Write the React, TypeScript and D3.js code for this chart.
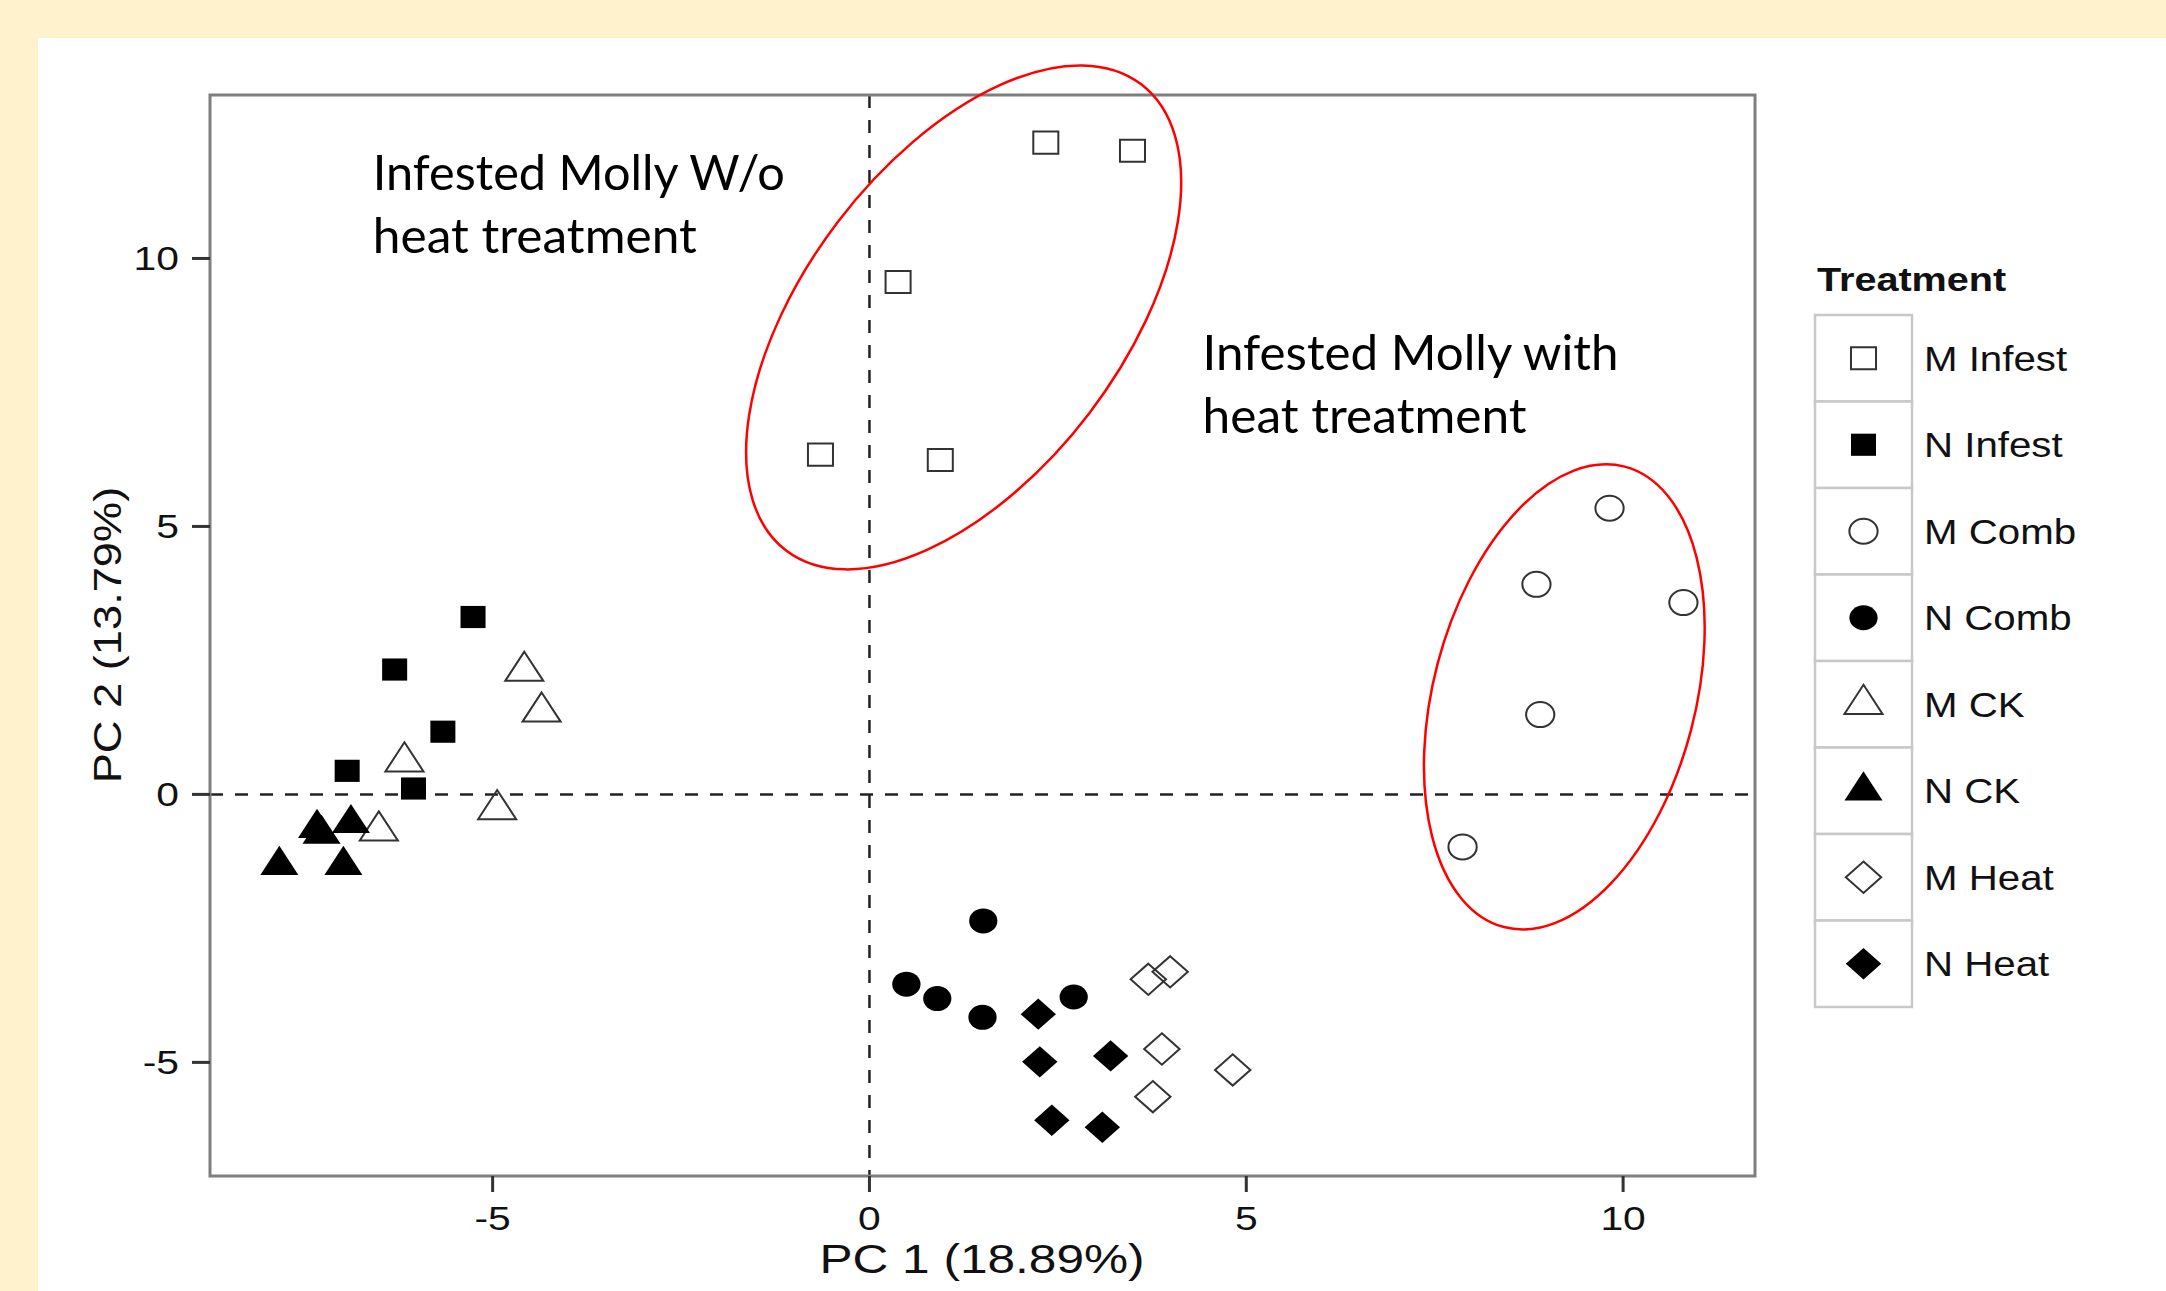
import React from 'react';
import * as d3 from 'd3';

// PCA scores, one list per treatment group
const treatments = ['M Infest', 'N Infest', 'M Comb', 'N Comb', 'M CK', 'N CK', 'M Heat', 'N Heat'];
const shapes = ['square', 'square', 'circle', 'circle', 'triangle', 'triangle', 'diamond', 'diamond'];
const filled = [false, true, false, true, false, true, false, true];

const mInfest = [[2.34, 12.16], [3.49, 12.01], [0.38, 9.56], [-0.65, 6.34], [0.94, 6.24]];
const nInfest = [[-5.26, 3.31], [-6.30, 2.33], [-5.66, 1.17], [-6.93, 0.44], [-6.05, 0.11]];
const mComb = [[9.82, 5.34], [8.85, 3.92], [10.80, 3.58], [8.90, 1.49], [7.87, -0.98]];
const nComb = [[1.51, -2.36], [0.49, -3.54], [0.90, -3.81], [1.50, -4.16], [2.71, -3.78]];
const mCK = [[-4.58, 2.30], [-4.35, 1.54], [-6.17, 0.61], [-4.94, -0.28], [-6.51, -0.68]];
const nCK = [[-7.33, -0.63], [-7.27, -0.74], [-6.88, -0.54], [-7.83, -1.32], [-6.98, -1.32]];
const mHeat = [[3.70, -3.45], [3.99, -3.31], [3.88, -4.75], [3.76, -5.64], [4.82, -5.14]];
const nHeat = [[2.24, -4.10], [2.26, -4.99], [3.20, -4.88], [2.42, -6.08], [3.09, -6.21]];
const groups = [mInfest, nInfest, mComb, nComb, mCK, nCK, mHeat, nHeat];

const xTicks = [-5, 0, 5, 10];
const yTicks = [-5, 0, 5, 10];
const xDomain = [-8.75, 11.75];
const yDomain = [-7.12, 13.05];

// hand drawn ellipses + notes (anchor in data units)
const notes = [
    {lines: ['Infested Molly W/o', 'heat treatment'], x: -6.59, y: 11.28, widths: [412, 324]},
    {lines: ['Infested Molly with', 'heat treatment'], x: 4.42, y: 7.92, widths: [416, 324]}
];
const ellipses = [
    {cx: 1.25, cy: 8.9, rx: 293, ry: 158, angle: -52.7},
    {cx: 9.22, cy: 1.82, rx: 238, ry: 131, angle: -75.3}
];

const W = 2166, H = 1291;
const plot = {left: 210, right: 1755, top: 95, bottom: 1176};
const R = 12.5;        // ggplot point radius in px
const stretch = 1.13;  // the original figure is stretched sideways
const axisFont = '"Liberation Sans", Arial, sans-serif';

function shapePath(shape) {
    if (shape === 'square') {
        const h = 0.886 * R;
        return `M${-h},${-h}H${h}V${h}H${-h}Z`;
    }
    if (shape === 'circle') {
        return `M${-R},0A${R},${R} 0 1,0 ${R},0A${R},${R} 0 1,0 ${-R},0Z`;
    }
    if (shape === 'triangle') {
        const r = 1.555 * R, xc = 1.347 * R, yc = 0.778 * R;
        return `M0,${-r}L${xc},${yc}L${-xc},${yc}Z`;
    }
    const d = 1.253 * R;
    return `M0,${-d}L${d},0L0,${d}L${-d},0Z`;
}

const Marker = ({x, y, i}) => (
    <path
        d={shapePath(shapes[i])}
        transform={`translate(${x},${y}) scale(${stretch},1)`}
        fill={filled[i] ? '#000' : 'none'}
        stroke={filled[i] ? 'none' : '#333'}
        strokeWidth={2}
        vectorEffect="non-scaling-stroke"
    />
);

export default function App() {
    const xScale = d3.scaleLinear().domain(xDomain).range([plot.left, plot.right]);
    const yScale = d3.scaleLinear().domain(yDomain).range([plot.bottom, plot.top]);

    const keyTop = 315, keyH = 86.5, keyLeft = 1815, keyW = 97;

    return (
        <svg width={W} height={H} style={{position: 'absolute', left: 0, top: 0}}>
            <rect x={0} y={0} width={W} height={H} fill="#FFF2CC"/>
            <rect x={38} y={38} width={W - 38} height={H - 38} fill="#fff"/>

            {/* zero lines */}
            <line x1={xScale(0)} x2={xScale(0)} y1={plot.top} y2={plot.bottom}
                  stroke="#222" strokeWidth={2.5} strokeDasharray="13,12"/>
            <line x1={plot.left} x2={plot.right} y1={yScale(0)} y2={yScale(0)}
                  stroke="#222" strokeWidth={2.5} strokeDasharray="13,12"/>

            {/* points */}
            {groups.map((g, i) => g.map((p, j) => (
                <Marker key={i + '-' + j} x={xScale(p[0])} y={yScale(p[1])} i={i}/>
            )))}

            {/* panel border */}
            <rect x={plot.left} y={plot.top} width={plot.right - plot.left} height={plot.bottom - plot.top}
                  fill="none" stroke="#7f7f7f" strokeWidth={3}/>

            {/* x axis */}
            {xTicks.map(t => (
                <g key={'x' + t}>
                    <line x1={xScale(t)} x2={xScale(t)} y1={plot.bottom} y2={plot.bottom + 16} stroke="#333" strokeWidth={3}/>
                    <text transform={`translate(${xScale(t)},${plot.bottom + 54}) scale(1.2,1)`}
                          textAnchor="middle" fontFamily={axisFont} fontSize={34} fill="#111">{t}</text>
                </g>
            ))}
            <text transform={`translate(982,1273) scale(1.24,1)`}
                  textAnchor="middle" fontFamily={axisFont} fontSize={40} fill="#111">PC 1 (18.89%)</text>

            {/* y axis */}
            {yTicks.map(t => (
                <g key={'y' + t}>
                    <line x1={plot.left - 18} x2={plot.left} y1={yScale(t)} y2={yScale(t)} stroke="#333" strokeWidth={3}/>
                    <text transform={`translate(${plot.left - 31},${yScale(t) + 12}) scale(1.2,1)`}
                          textAnchor="end" fontFamily={axisFont} fontSize={34} fill="#111">{t}</text>
                </g>
            ))}
            <text transform={`translate(121,635) rotate(-90) scale(1.16,1)`}
                  textAnchor="middle" fontFamily={axisFont} fontSize={39} fill="#111">PC 2 (13.79%)</text>

            {/* legend */}
            <text transform={`translate(1817,291) scale(1.2,1)`} fontFamily={axisFont} fontWeight="bold"
                  fontSize={33} fill="#111">Treatment</text>
            {treatments.map((t, i) => (
                <g key={t}>
                    <rect x={keyLeft} y={keyTop + i * keyH} width={keyW} height={keyH}
                          fill="#fff" stroke="#c8c8c8" strokeWidth={2.5}/>
                    <Marker x={keyLeft + keyW / 2} y={keyTop + (i + 0.5) * keyH} i={i}/>
                    <text transform={`translate(1924,${keyTop + (i + 0.5) * keyH + 12.5}) scale(1.15,1)`}
                          fontFamily={axisFont} fontSize={35} fill="#111">{t}</text>
                </g>
            ))}

            {/* annotations */}
            {ellipses.map((e, i) => (
                <ellipse key={'e' + i} cx={0} cy={0} rx={e.rx} ry={e.ry}
                         transform={`translate(${xScale(e.cx)},${yScale(e.cy)}) rotate(${e.angle})`}
                         fill="none" stroke="#ff0000" strokeWidth={2.5}/>
            ))}
            {notes.map((n, i) => (
                <g key={'n' + i}>
                    {n.lines.map((l, k) => (
                        <text key={k} x={xScale(n.x)} y={yScale(n.y) + k * 62.7}
                              fontFamily="Lato, 'Open Sans', sans-serif" fontSize={49} fill="#000"
                              textLength={n.widths[k]} lengthAdjust="spacingAndGlyphs">{l}</text>
                    ))}
                </g>
            ))}
        </svg>
    );
}
